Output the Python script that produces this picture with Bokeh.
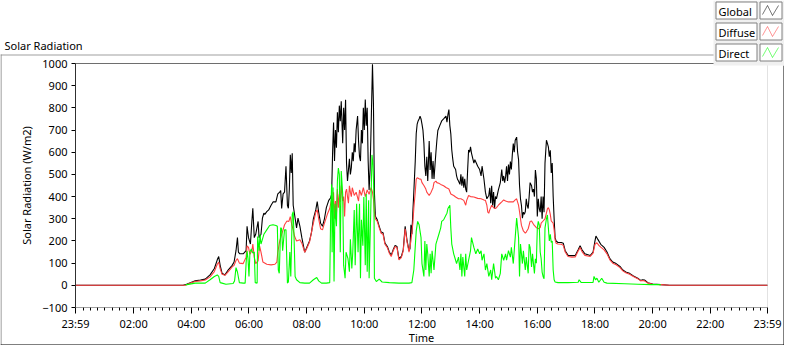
from bokeh.plotting import figure
from bokeh.models import Range1d, FixedTicker, BoxAnnotation, Label, PolyAnnotation
from bokeh.embed import file_html
from bokeh.resources import INLINE

# ---- data: time in minutes after 00:00, irradiance in W/m2 ----
global_t = [0, 223, 230, 238, 248, 259, 269, 279, 288, 294, 297, 300, 304, 310, 317, 325, 329, 333, 336, 338, 341, 348, 354, 356, 359, 363, 366, 368, 371, 374, 379, 381, 385, 388, 391, 393, 397, 401, 406, 410, 416, 420, 424, 426, 428, 431, 434, 437, 440, 442, 444, 446, 448, 450, 452, 455, 459, 462, 466, 470, 476, 480, 486, 490, 494, 499, 502, 505, 509, 513, 517, 521, 526, 530, 532, 534, 536, 538, 540, 542, 544, 546, 548, 550, 552, 555, 557, 559, 561, 563, 565, 567, 569, 571, 573, 575, 577, 579, 581, 583, 586, 588, 590, 592, 594, 596, 598, 600, 602, 604, 606, 608, 610, 612, 614, 617, 619, 621, 623, 627, 631, 635, 639, 643, 648, 652, 656, 660, 664, 668, 672, 677, 681, 685, 689, 693, 695, 697, 699, 701, 703, 706, 708, 710, 712, 714, 716, 718, 720, 722, 724, 726, 728, 730, 732, 735, 737, 739, 741, 743, 745, 747, 749, 751, 753, 757, 761, 765, 770, 772, 774, 776, 778, 780, 782, 784, 786, 790, 792, 794, 796, 799, 801, 803, 805, 807, 809, 811, 813, 815, 817, 819, 821, 823, 828, 830, 836, 840, 843, 845, 849, 852, 855, 859, 861, 863, 865, 867, 869, 871, 873, 875, 879, 883, 886, 888, 890, 892, 894, 896, 898, 900, 902, 904, 906, 908, 910, 912, 914, 917, 919, 921, 923, 925, 927, 929, 931, 933, 935, 937, 939, 941, 943, 945, 948, 950, 952, 954, 956, 958, 960, 962, 964, 966, 968, 970, 972, 974, 976, 979, 981, 983, 985, 987, 989, 991, 993, 995, 997, 999, 1003, 1010, 1014, 1018, 1024, 1032, 1039, 1045, 1049, 1053, 1059, 1070, 1076, 1080, 1082, 1086, 1092, 1099, 1105, 1111, 1117, 1124, 1132, 1138, 1144, 1152, 1160, 1169, 1175, 1179, 1183, 1190, 1200, 1217, 1235, 1439]
global_v = [0, 0, 5, 12, 20, 24, 28, 47, 76, 115, 130, 90, 54, 47, 70, 90, 105, 156, 215, 150, 142, 142, 156, 266, 215, 186, 288, 347, 215, 230, 288, 215, 230, 303, 325, 320, 332, 340, 361, 376, 376, 412, 420, 427, 347, 412, 420, 537, 361, 347, 434, 588, 507, 595, 361, 317, 259, 303, 266, 215, 149, 170, 200, 237, 300, 340, 377, 330, 280, 266, 300, 350, 383, 395, 410, 600, 734, 560, 700, 620, 780, 690, 810, 740, 830, 640, 800, 700, 837, 550, 470, 520, 570, 500, 530, 600, 560, 640, 600, 700, 763, 650, 580, 560, 700, 640, 800, 700, 838, 720, 800, 560, 430, 520, 700, 997, 820, 420, 311, 295, 266, 240, 237, 190, 175, 150, 136, 160, 180, 175, 120, 130, 160, 266, 200, 156, 165, 273, 230, 330, 420, 560, 683, 727, 741, 750, 763, 750, 727, 700, 640, 537, 493, 580, 470, 650, 520, 600, 480, 560, 480, 540, 600, 654, 698, 720, 741, 750, 763, 735, 770, 792, 720, 683, 610, 570, 537, 522, 493, 478, 470, 455, 500, 449, 490, 440, 480, 434, 420, 520, 610, 600, 624, 596, 551, 566, 537, 522, 493, 537, 478, 420, 390, 405, 440, 370, 449, 360, 420, 346, 400, 390, 430, 463, 522, 470, 493, 463, 490, 537, 470, 544, 500, 558, 522, 590, 639, 600, 654, 668, 600, 566, 450, 390, 360, 303, 330, 320, 332, 390, 360, 346, 400, 463, 449, 420, 434, 400, 520, 480, 310, 390, 346, 330, 400, 300, 400, 330, 551, 654, 640, 624, 580, 609, 507, 551, 400, 300, 215, 200, 193, 193, 190, 156, 135, 134, 134, 160, 178, 160, 142, 134, 150, 200, 222, 207, 185, 171, 150, 120, 105, 98, 85, 69, 60, 54, 42, 32, 22, 25, 24, 12, 6, 3, 0, 0]

diffuse_t = [0, 228, 238, 248, 259, 269, 279, 288, 294, 297, 300, 304, 310, 317, 325, 329, 333, 336, 340, 348, 354, 356, 359, 362, 366, 368, 371, 374, 379, 382, 385, 389, 397, 406, 414, 418, 420, 424, 428, 431, 434, 439, 443, 446, 449, 452, 455, 459, 466, 470, 476, 480, 486, 492, 499, 502, 505, 509, 513, 517, 523, 528, 532, 534, 536, 538, 540, 542, 544, 546, 548, 550, 552, 555, 557, 559, 561, 563, 565, 567, 569, 571, 573, 575, 579, 583, 588, 590, 594, 598, 602, 606, 610, 614, 617, 619, 621, 623, 627, 631, 635, 639, 643, 648, 652, 656, 660, 664, 668, 672, 677, 681, 685, 689, 693, 697, 701, 703, 706, 708, 710, 714, 718, 720, 724, 728, 730, 735, 739, 743, 745, 749, 751, 755, 759, 765, 770, 776, 780, 786, 790, 796, 801, 807, 811, 813, 817, 821, 828, 836, 843, 849, 852, 855, 857, 859, 861, 865, 869, 873, 875, 879, 883, 886, 890, 894, 900, 904, 910, 914, 917, 921, 923, 925, 927, 931, 935, 937, 941, 945, 948, 952, 958, 962, 966, 968, 972, 976, 981, 983, 985, 987, 989, 993, 995, 997, 999, 1003, 1010, 1014, 1018, 1024, 1032, 1039, 1045, 1049, 1053, 1059, 1070, 1076, 1080, 1084, 1088, 1092, 1099, 1105, 1111, 1117, 1124, 1132, 1138, 1144, 1152, 1160, 1169, 1175, 1179, 1183, 1190, 1200, 1217, 1235, 1439]
diffuse_v = [0, 0, 10, 17, 20, 24, 38, 62, 95, 105, 75, 50, 45, 62, 83, 90, 112, 120, 100, 98, 127, 178, 171, 140, 156, 186, 127, 98, 110, 178, 150, 105, 95, 92, 95, 105, 150, 200, 230, 250, 273, 290, 288, 310, 273, 250, 220, 200, 205, 190, 149, 165, 195, 260, 330, 340, 300, 255, 250, 280, 320, 346, 390, 330, 420, 300, 380, 320, 434, 350, 410, 376, 450, 380, 400, 310, 420, 434, 400, 370, 449, 420, 400, 440, 405, 420, 380, 430, 405, 440, 400, 430, 410, 440, 420, 390, 330, 300, 288, 259, 235, 230, 185, 170, 145, 130, 155, 175, 170, 115, 125, 155, 255, 195, 150, 200, 280, 346, 420, 478, 485, 480, 478, 463, 450, 434, 420, 405, 420, 440, 463, 470, 463, 460, 455, 449, 441, 434, 412, 405, 398, 390, 390, 383, 361, 383, 405, 400, 398, 392, 390, 385, 383, 361, 330, 325, 340, 361, 350, 346, 350, 361, 370, 376, 385, 380, 376, 376, 376, 385, 390, 360, 332, 300, 270, 245, 235, 240, 255, 288, 290, 275, 260, 255, 260, 280, 290, 300, 345, 350, 340, 320, 290, 280, 250, 205, 190, 186, 185, 180, 150, 130, 127, 128, 155, 170, 152, 135, 130, 145, 185, 192, 180, 172, 160, 142, 115, 100, 93, 80, 65, 57, 50, 40, 30, 20, 22, 20, 10, 5, 3, 0, 0]

direct_t = [228, 248, 269, 279, 288, 294, 297, 300, 304, 312, 327, 330, 333, 336, 340, 348, 352, 354, 356, 358, 360, 362, 365, 368, 371, 373, 377, 378, 381, 383, 385, 387, 391, 397, 403, 410, 416, 419, 421, 423, 426, 428, 430, 434, 437, 440, 442, 445, 447, 450, 452, 454, 456, 459, 466, 476, 486, 494, 501, 505, 511, 521, 528, 530, 532, 533, 535, 537, 539, 542, 544, 546, 548, 550, 552, 555, 557, 560, 562, 566, 569, 571, 574, 576, 579, 581, 584, 587, 590, 592, 594, 597, 599, 602, 604, 606, 609, 610, 613, 616, 618, 620, 621, 625, 631, 637, 652, 672, 693, 699, 703, 708, 711, 714, 718, 720, 724, 726, 728, 730, 732, 735, 737, 739, 741, 745, 749, 751, 755, 759, 761, 765, 770, 772, 774, 778, 780, 782, 786, 790, 792, 796, 799, 801, 803, 805, 809, 811, 813, 817, 821, 823, 828, 832, 836, 840, 843, 845, 849, 852, 855, 859, 863, 865, 869, 873, 875, 879, 883, 886, 890, 894, 896, 900, 904, 906, 910, 914, 917, 921, 923, 925, 929, 931, 935, 937, 941, 943, 945, 948, 950, 952, 954, 956, 958, 960, 962, 964, 966, 968, 970, 972, 974, 976, 979, 981, 983, 985, 987, 989, 991, 993, 995, 997, 1003, 1024, 1045, 1047, 1051, 1076, 1078, 1081, 1084, 1088, 1094, 1099, 1105, 1142, 1169, 1196, 1217]
direct_v = [2, 10, 10, 25, 40, 47, 40, 12, 10, 5, 8, 20, 80, 60, 12, 10, 10, 100, 156, 120, 40, 150, 164, 145, 150, 12, 10, 220, 156, 230, 186, 200, 230, 250, 270, 273, 270, 266, 70, 54, 260, 255, 156, 250, 250, 10, 15, 150, 40, 320, 332, 200, 40, 25, 12, 10, 10, 25, 35, 20, 10, 10, 12, 325, 456, 149, 441, 17, 368, 266, 471, 529, 500, 149, 515, 412, 91, 32, 149, 120, 61, 208, 76, 149, 339, 91, 368, 149, 368, 32, 295, 178, 398, 91, 412, 61, 383, 32, 295, 588, 544, 412, 32, 17, 28, 15, 12, 10, 10, 12, 69, 244, 288, 273, 215, 98, 40, 200, 69, 186, 142, 40, 142, 54, 156, 69, 186, 200, 229, 259, 288, 295, 317, 325, 346, 361, 259, 186, 142, 113, 98, 127, 69, 142, 40, 127, 40, 142, 69, 113, 156, 215, 171, 142, 164, 142, 156, 113, 142, 69, 98, 40, 69, 25, 98, 32, 40, 25, 54, 142, 113, 142, 113, 156, 127, 171, 98, 215, 303, 215, 40, 186, 98, 156, 69, 127, 54, 186, 171, 83, 142, 98, 54, 120, 100, 259, 288, 273, 150, 120, 60, 40, 30, 259, 300, 317, 259, 200, 230, 193, 200, 69, 25, 15, 12, 12, 14, 25, 13, 13, 40, 25, 32, 14, 32, 14, 10, 7, 5, 3, 3]

x_ticks = [-1, 120, 240, 360, 480, 600, 720, 840, 960, 1080, 1200, 1320, 1439]
x_labels = ["23:59", "02:00", "04:00", "06:00", "08:00", "10:00", "12:00",
            "14:00", "16:00", "18:00", "20:00", "22:00", "23:59"]
y_ticks = [-100, 0, 100, 200, 300, 400, 500, 600, 700, 800, 900, 1000]
series_names = ["Global", "Diffuse", "Direct"]
series_colors = ["#000000", "#ff4040", "#00ff00"]

FONT = "Noto Sans"
W, H = 784, 345
# plot area in canvas pixels
PL, PR, PT, PB = 75, 767, 63, 307
X0, X1 = -1, 1439
Y0, Y1 = -100, 1000
kx = (PR - PL) / (X1 - X0)
ky = (PB - PT) / (Y1 - Y0)

p = figure(width=W, height=H, output_backend="svg", toolbar_location=None,
           x_range=Range1d(X0 - PL / kx, X1 + (W - PR) / kx),
           y_range=Range1d(Y0 - (H - PB) / ky, Y1 + PT / ky),
           min_border_left=0, min_border_right=0, min_border_top=0, min_border_bottom=0)
p.min_border = 0
p.title.visible = False
p.background_fill_color = "white"
p.border_fill_color = "white"
p.outline_line_color = None
p.xgrid.visible = False
p.ygrid.visible = False

p.line(global_t, global_v, color=series_colors[0], line_width=1.1)
p.line(diffuse_t, diffuse_v, color=series_colors[1], line_width=1.1)
p.line(direct_t, direct_v, color=series_colors[2], line_width=1.1)

xa = p.xaxis[0]
xa.fixed_location = Y0
xa.bounds = (X0, X1)
xa.ticker = FixedTicker(ticks=x_ticks, minor_ticks=list(range(0, 1440, 15)))
xa.major_label_overrides = {t: l for t, l in zip(x_ticks, x_labels)}
xa.axis_line_color = "#a0a0a0"
xa.major_tick_line_color = "black"
xa.minor_tick_line_color = "black"
xa.major_tick_in = 0
xa.major_tick_out = 6
xa.minor_tick_in = 0
xa.minor_tick_out = 3
xa.major_label_standoff = 2

ya = p.yaxis[0]
ya.fixed_location = X0
ya.bounds = (Y0, Y1)
ya.ticker = FixedTicker(ticks=y_ticks, minor_ticks=[])
ya.axis_label = "Solar Radiation (W/m2)"
ya.axis_line_color = "black"
ya.major_tick_line_color = "black"
ya.major_tick_in = 0
ya.major_tick_out = 4
ya.major_label_standoff = 4
ya.axis_label_standoff = 5

for ax in (xa, ya):
    ax.major_label_text_font = FONT
    ax.major_label_text_font_size = "11px"
    ax.major_label_text_color = "#000000"
    ax.axis_label_text_font = FONT
    ax.axis_label_text_font_size = "11px"
    ax.axis_label_text_font_style = "normal"
    ax.axis_label_text_color = "#000000"

# plot-area edges (gray bottom/right, black top; left is the y axis line)
p.add_layout(BoxAnnotation(left=X0, right=X1, bottom=Y0, top=Y1, fill_alpha=0,
                           line_color="#a0a0a0", line_width=1))
p.add_layout(BoxAnnotation(left=X0, right=X1, bottom=Y1, top=Y1, fill_alpha=0,
                           line_color="black", line_width=1))

# helpers: canvas pixel (origin top-left) -> screen units (origin bottom-left)
def cbox(l, t, r, b, fill=None, line=None):
    return BoxAnnotation(left=l, right=r, top=H - t, bottom=H - b,
                         left_units="screen", right_units="screen",
                         top_units="screen", bottom_units="screen",
                         fill_color=fill if fill else "white", fill_alpha=1 if fill else 0,
                         line_color=line if line else "white", line_alpha=1 if line else 0,
                         line_width=1)

def clabel(x, y, text, **kw):
    return Label(x=x, y=H - y, x_units="screen", y_units="screen", text=text,
                 text_font=FONT, text_font_size="11px", text_color="#000000", **kw)

# outer panel
p.add_layout(cbox(0, 54, 714, 55, fill="#a0a0a0"))
p.add_layout(cbox(0, 54, 1, 345, fill="#808080"))
p.add_layout(cbox(0, 344, 784, 345, fill="#000000"))
p.add_layout(cbox(783, 65, 784, 345, fill="#000000"))

p.add_layout(clabel(4, 37, "Solar Radiation", text_baseline="top"))
p.add_layout(clabel((PL + PR) / 2, 344, "Time", text_baseline="bottom", text_align="center"))

# legend
p.add_layout(cbox(713, 0, 784, 65, fill="#f0f0f0"))
for i, (name, col) in enumerate(zip(series_names, series_colors)):
    top = 1 + i * 21
    p.add_layout(cbox(715.5, top + 0.5, 756.5, top + 17.5, fill="white", line="#808080"))
    p.add_layout(cbox(759.5, top + 0.5, 781.5, top + 17.5, fill="white", line="#808080"))
    p.add_layout(clabel(718, top + 9.5, name, text_baseline="middle"))
    zx = [762, 767, 772, 778, 772, 767]
    zy = [H - v for v in (top + 13, top + 4, top + 14, top + 4, top + 14, top + 4)]
    p.add_layout(PolyAnnotation(xs=zx, ys=zy, xs_units="screen", ys_units="screen",
                                fill_alpha=0, line_color=col, line_width=1))

open("out.html", "w").write(file_html(p, INLINE))
